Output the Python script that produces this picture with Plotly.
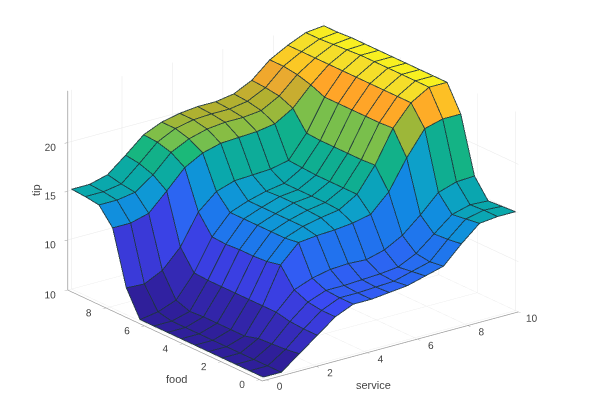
import plotly.graph_objects as go

service = [0, 0.714, 1.429, 2.143, 2.857, 3.571, 4.286, 5, 5.714, 6.429, 7.143, 7.857, 8.571, 9.286, 10]
food = [0, 0.714, 1.429, 2.143, 2.857, 3.571, 4.286, 5, 5.714, 6.429, 7.143, 7.857, 8.571, 9.286, 10]
tip = [
 [5,5,6.4,7.8,9.2,10,10,10.2,10.4,10.9,11.4,13.2,14.8,15,15],
 [5,5,6.2,7.8,9.2,10,10,10.1,10.2,10.7,11.2,13,14.6,15,14.9],
 [5,5,6.1,7.9,9.4,10.1,10.1,10.2,10.3,10.5,11.4,12.9,14.4,14.9,14.8],
 [5,5,6,8.2,10,10.7,11.1,11.2,11.1,11.6,12.6,14.2,16,16.6,16.7],
 [5,5,5.6,8.2,11.9,13.7,13.9,14,14.2,14.6,16.4,19.4,21.9,22.4,22.4],
 [5,5,5.6,8.2,11.6,13.5,14.2,14.6,14.9,16,18.5,21.8,23.9,25,25],
 [5,5,5.6,8.2,11.5,13.5,14.2,14.7,15,16,18.4,21.7,23.9,25,25],
 [5,5,5.6,8.2,11.5,13.5,14.2,14.8,15,16,18.4,21.7,23.9,25,25],
 [5,5,5.5,8.2,11.4,13.5,14.2,14.8,15,16,18.4,21.7,23.9,25,25],
 [5,5.3,6,8.3,11.5,13.5,14.2,14.7,15,16.1,18.4,21.7,23.9,25,25],
 [7.6,7.5,8.4,10.3,13.4,15,15.6,15.7,15.8,16.2,18.5,21.7,23.9,25,25],
 [13.1,13.1,13.6,15.4,17.3,18.3,18.8,18.9,19,19.3,20.4,22.3,23.9,24.9,25],
 [14.8,14.8,15.1,16.4,18.2,19.1,19.6,19.8,19.8,20,21,22.7,23.9,24.8,25],
 [15,15,15.3,16.9,18.6,19.5,19.9,20,20,20.3,21.2,22.9,23.9,24.7,24.9],
 [15.1,15.1,15.6,17.1,18.7,19.5,19.9,20.1,20.1,20.4,21.3,22.9,23.9,24.7,24.9],
]
z_ticks = [10, 15, 20]
xy_ticks = [0, 2, 4, 6, 8, 10]
parula = [
 [0.0, "#2f1f9a"], [0.1, "#3a34d0"], [0.22, "#3a4cf5"], [0.27, "#2a68f2"],
 [0.36, "#1482e8"], [0.45, "#0d9ed0"], [0.5, "#0aa8aa"], [0.56, "#10b08c"],
 [0.62, "#1cba78"], [0.66, "#70c050"], [0.7, "#90bc40"], [0.75, "#b0b030"],
 [0.8, "#e8aa30"], [0.835, "#ffa428"], [0.88, "#fcc524"], [0.94, "#f5dc2a"], [1.0, "#f8f020"],
]
VIEW = dict(x=-0.566, y=-0.745, z=0.355)
CENTER = dict(x=0.032, y=-0.040, z=-0.028)
EYE = {k: VIEW[k] + CENTER[k] for k in VIEW}
ASPECT = dict(x=1.612, y=1.612, z=1.068)
T = 0.015
DX = VIEW["x"] * T * 10 / ASPECT["x"] * 1.59
DY = VIEW["y"] * T * 10 / ASPECT["y"] * 1.59
DZ = VIEW["z"] * T * 20 / ASPECT["z"] * 1.59

n = len(service)
m = len(food)
X, Y, Z, I, J, K, C = [], [], [], [], [], [], []
for j in range(m):
    for i in range(n):
        X.append(service[i]); Y.append(food[j]); Z.append(tip[j][i])
for j in range(m - 1):
    for i in range(n - 1):
        a = j * n + i
        b = a + 1
        c = a + n + 1
        d = a + n
        I += [a, a]; J += [b, c]; K += [c, d]
        C += [tip[j][i], tip[j][i]]

lx, ly, lz = [], [], []
for j in range(m):
    for i in range(n):
        lx.append(service[i] + DX); ly.append(food[j] + DY); lz.append(tip[j][i] + DZ)
    lx.append(None); ly.append(None); lz.append(None)
for i in range(n):
    for j in range(m):
        lx.append(service[i] + DX); ly.append(food[j] + DY); lz.append(tip[j][i] + DZ)
    lx.append(None); ly.append(None); lz.append(None)

fig = go.Figure()
fig.add_trace(go.Mesh3d(x=X, y=Y, z=Z, i=I, j=J, k=K, intensity=C, intensitymode="cell",
                        colorscale=parula, cmin=5, cmax=25, showscale=False, flatshading=True,
                        lighting=dict(ambient=1, diffuse=0, specular=0, roughness=1, fresnel=0)))
fig.add_trace(go.Scatter3d(x=lx, y=ly, z=lz, mode="lines", showlegend=False,
                           line=dict(color="rgba(25,45,50,0.85)", width=2)))

font = dict(family="Liberation Sans", size=11, color="#444444")
axis = dict(showbackground=False, showgrid=True, gridcolor="#e8e8e8", gridwidth=1, zeroline=False,
            showline=True, linecolor="#9a9a9a", linewidth=1.5, ticks="outside", tickcolor="#9a9a9a",
            ticklen=4, tickangle=0, tickfont=font, showspikes=False, title=dict(text=""))
labels = [("service", 365, 377, 0), ("food", 168, 371, 0), ("tip", 28, 182, -90)]
fig.update_layout(
    width=590, height=413, margin=dict(l=0, r=0, t=0, b=0), paper_bgcolor="white", showlegend=False,
    annotations=[dict(text=t, x=px / 590, y=1 - py / 413, xref="paper", yref="paper", showarrow=False,
                      textangle=a, font=font, xanchor="center", yanchor="middle") for t, px, py, a in labels],
    scene=dict(
        domain=dict(x=[0, 1], y=[0.034, 1]),
        xaxis=dict(axis, range=[-0.15, 10], tickvals=xy_ticks),
        yaxis=dict(axis, range=[-0.15, 10], tickvals=xy_ticks),
        zaxis=dict(axis, range=[4.85, 25.3], tickvals=z_ticks),
        aspectmode="manual", aspectratio=ASPECT,
        camera=dict(projection=dict(type="orthographic"),
                    eye=EYE, up=dict(x=0, y=0, z=1), center=CENTER),
    ),
)
fig.write_html("out.html")
